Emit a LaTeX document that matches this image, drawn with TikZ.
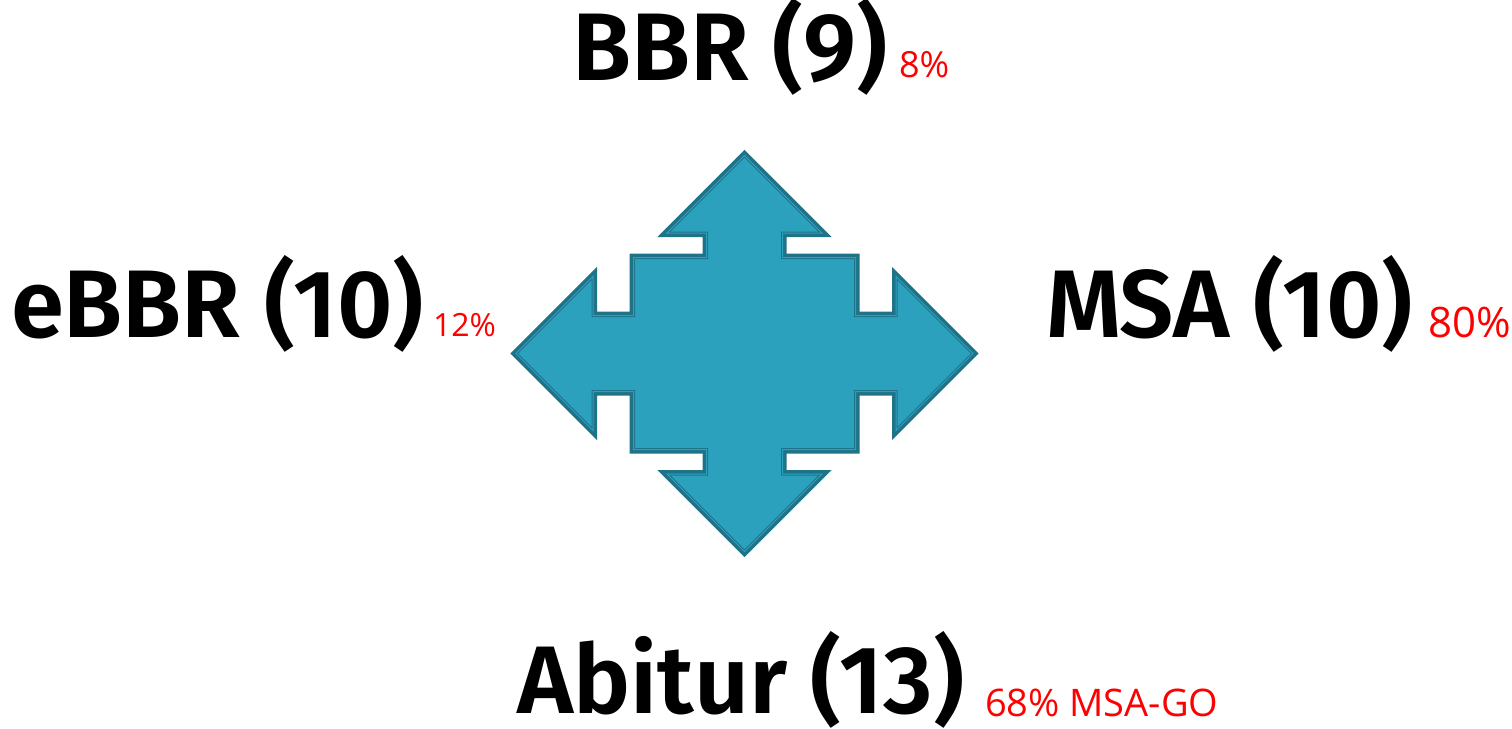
\documentclass[tikz,border=0pt]{standalone}
\usepackage{fontspec}
\setmainfont{Open Sans}
\newfontfamily\degreefont{Fira Sans SemiBold}
\usepackage{tkz-graph}
\usetikzlibrary{arrows}
\usetikzlibrary{shapes}
\definecolor{arrowFill}{RGB}{44,161,190}
\definecolor{arrowLine}{RGB}{31,115,137}
\definecolor{shareRed}{RGB}{255,0,0}
\newcommand{\crossArrow}{(0,-198) -- (77.5,-120.5) -- (38,-120.5) -- (38,-96) -- (111,-96) -- (111,-38) -- (151.5,-38) -- (151.5,-77) -- (228.5,0) -- (151.5,77) -- (151.5,38) -- (111,38) -- (111,96) -- (38,96) -- (38,120.5) -- (77.5,120.5) -- (0,198) -- (-77.5,120.5) -- (-38,120.5) -- (-38,96) -- (-111,96) -- (-111,38) -- (-151.5,38) -- (-151.5,77) -- (-228.5,0) -- (-151.5,-77) -- (-151.5,-38) -- (-111,-38) -- (-111,-96) -- (-38,-96) -- (-38,-120.5) -- (-77.5,-120.5) -- cycle}

\begin{document}
\begin{tikzpicture}[x = 0.5pt, y = -0.5pt]
	\tikzstyle{VertexStyle} = []
	\tikzstyle{degreeStyle}=[anchor = base west, inner sep = 0pt, font = \degreefont\fontsize{48}{52}\selectfont]
	\tikzstyle{shareStyle}=[anchor = base west, inner sep = 0pt, text = shareRed]
	\tikzstyle{arrowOuter}=[draw = arrowLine, line width = 4pt, line join = miter]
	\tikzstyle{arrowInner}=[fill = arrowFill, draw = arrowLine, line width = 0.5pt, double = arrowFill, double distance = 0.5pt, line join = miter]
	\useasboundingbox (0,0) rectangle (1512,729);
	\begin{scope}[shift = {(744.5,353.5)}]
		\draw[arrowOuter] \crossArrow;
		\draw[arrowInner] \crossArrow;
	\end{scope}
	\SetVertexNoMath
	\Vertex[style = degreeStyle, x = 572, y = 80, L = {BBR (9)}]{bbr}
	\Vertex[style = degreeStyle, x = 11, y = 337, L = {eBBR (10)}]{ebbr}
	\Vertex[style = degreeStyle, x = 1046, y = 337, L = {MSA (10)}]{msa}
	\Vertex[style = degreeStyle, x = 517, y = 713, L = {Abitur (13)}]{abitur}
	\Vertex[style = shareStyle, x = 899, y = 77, L = \fontsize{18}{20}\selectfont {8\%}]{bbrShare}
	\Vertex[style = shareStyle, x = 433, y = 336, L = \fontsize{16}{18}\selectfont {12\%}]{ebbrShare}
	\Vertex[style = shareStyle, x = 1428, y = 337, L = \fontsize{21}{24}\selectfont {80\%}]{msaShare}
	\Vertex[style = shareStyle, x = 985, y = 716, L = \fontsize{19}{21}\selectfont {68\% MSA-GO}]{abiturShare}
\end{tikzpicture}
\end{document}
